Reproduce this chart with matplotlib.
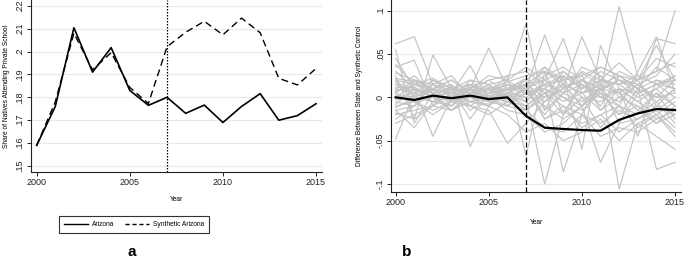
import matplotlib
matplotlib.use("Agg")
import matplotlib.pyplot as plt
from matplotlib.lines import Line2D

plt.rcParams['font.family'] = ['Liberation Sans', 'DejaVu Sans']

years = list(range(2000, 2016))

arizona = [0.159, 0.176, 0.2104, 0.191, 0.2017, 0.183, 0.1765, 0.180,
           0.173, 0.1766, 0.169, 0.176, 0.1816, 0.170, 0.172, 0.1772]
synthetic_arizona = [0.159, 0.178, 0.208, 0.192, 0.1995, 0.1843, 0.1773, 0.2021,
                     0.2084, 0.2132, 0.2073, 0.2146, 0.2082, 0.1883, 0.1854, 0.1926]

arizona_gap = [0.000, -0.003, 0.002, -0.001, 0.002, -0.002, 0.000, -0.0215,
               -0.035, -0.0365, -0.0377, -0.0385, -0.026, -0.0185, -0.0135, -0.0146]

# placebo gaps in percentage points (x 0.01)
placebo_gaps_pp = [
    [6.2, 7.0, 1.5, 0.8, -0.5, 0.5, 1.0, 2.2, 0.5, 1.5, -1.0, 0.8, 2.0, 1.0, 3.5, 2.0],
    [5.5, -3.0, 0.5, 1.0, 0.0, -1.0, 1.5, 0.5, 3.5, 2.0, 2.5, -1.5, 1.0, 0.5, 6.8, 6.2],
    [-4.8, 0.5, 1.0, -0.5, 2.0, 0.0, -1.5, -2.0, -4.0, -3.0, -1.0, -7.5, -3.0, -2.5, -1.5, -3.5],
    [3.5, 4.3, -1.0, 0.5, 1.0, -0.5, 2.0, 8.5, -1.5, 2.5, 1.0, 3.0, 2.0, 1.5, -0.5, 1.0],
    [2.5, -2.5, 4.9, 1.0, 0.5, 1.5, 0.0, 1.0, 7.2, 1.5, -1.0, 2.0, 1.5, 0.0, 1.0, 2.5],
    [1.5, 1.0, -4.5, 0.0, -1.0, 0.5, 2.5, -6.8, 3.0, -2.0, 1.5, 0.5, -2.0, 1.0, -1.5, 0.0],
    [0.5, 2.0, 1.0, 1.5, -5.7, -1.0, 0.5, 0.0, -10.0, -2.0, 2.0, 1.0, -1.0, -2.0, 0.5, -2.5],
    [-1.5, -1.0, 2.0, 0.5, 3.7, -0.5, -1.0, 1.5, 2.0, 6.8, 0.5, 1.0, 10.5, 2.5, 1.5, 2.0],
    [1.0, 0.5, -0.5, -1.0, 1.0, 5.7, 1.0, 0.5, 1.5, -8.6, -2.0, 1.5, 0.5, -1.5, -3.0, -1.0],
    [-2.0, -1.5, -1.0, 1.5, -1.0, -1.5, -5.3, -3.0, -0.5, 1.0, 7.0, 2.0, -10.6, -3.0, -2.0, -4.0],
    [2.0, 1.5, 1.0, -1.0, 0.5, 2.0, 2.5, 3.0, 1.5, 2.5, -6.0, 6.0, 1.0, -4.5, 2.0, 1.5],
    [3.0, 1.0, 0.0, 0.5, 1.5, -0.5, 1.0, 2.0, 3.5, 1.0, 2.0, 0.0, -1.0, 3.0, 7.0, 0.5],
    [-0.5, -1.0, 1.5, 2.5, 0.0, 1.0, -0.5, -1.5, 0.0, 3.0, 1.5, -1.0, 2.5, 1.0, -8.3, -7.5],
    [0.0, 1.5, 0.5, -0.5, 1.0, 0.5, 1.5, 1.0, -2.0, 0.5, 3.0, 2.0, 1.5, 2.0, 3.0, 10.0],
    [1.2, 0.8, 0.5, 1.0, 0.8, 0.2, 0.5, 0.0, 1.5, 0.5, -0.5, 1.0, 2.0, 0.5, 1.5, 1.0],
    [-1.0, -0.5, -1.5, -0.5, -1.0, -2.0, -0.5, 1.0, -2.5, -1.5, -3.0, -2.0, -1.0, -3.5, -2.0, -4.5],
    [0.8, 1.2, 0.0, -1.5, 0.5, 1.0, 1.8, 2.5, 3.0, 2.0, 2.8, 1.5, 2.5, 1.0, 0.0, 2.0],
    [-0.3, 0.2, 0.8, 0.5, -0.5, -0.8, 0.3, -1.0, 0.5, -1.0, -2.0, -3.0, -1.5, -2.5, -1.0, -2.0],
    [2.2, 1.8, 1.0, 0.5, 1.2, 0.8, 1.5, 1.0, 2.5, 3.5, 2.0, 1.0, 3.0, 2.0, 4.5, 3.5],
    [-1.8, -2.5, -1.0, 0.5, -0.5, -1.0, -2.0, -4.0, -3.0, -5.0, -4.0, -2.5, -5.0, -3.0, -4.5, -6.0],
    [1.5, 0.5, 2.0, 1.0, 1.5, 0.5, 1.0, 1.5, 0.0, 1.0, 2.0, 3.5, 2.5, 1.0, 2.0, 1.0],
    [0.3, -0.5, 0.0, 1.2, 0.5, 1.0, 0.2, -0.5, 2.0, 0.0, -1.5, 0.5, -0.5, 1.5, 0.0, 0.5],
    [-2.5, -1.0, 0.5, -1.5, -0.5, 0.0, -1.0, 0.5, -1.0, -2.5, -1.0, 0.5, -2.0, -1.0, -2.5, -1.5],
    [2.8, 2.0, 1.5, 0.5, 0.0, 1.2, 0.8, 1.5, 3.0, 2.0, 2.5, 3.5, 2.5, 2.0, 3.0, 4.0],
    [1.0, 2.5, 0.5, 1.0, 2.0, 1.5, 2.0, 0.5, 1.0, -0.5, 0.5, -1.5, 0.0, -1.0, -3.0, -2.0],
    [-1.2, 0.0, -0.5, 0.2, 1.0, -0.3, 0.5, 2.0, -1.5, 0.5, 1.5, 0.0, 1.0, -0.5, 1.0, -1.0],
    [3.8, 1.5, 1.0, 2.0, 0.5, -0.5, 1.0, 1.0, 2.0, 0.5, 3.5, 2.5, 0.0, 1.5, 2.5, 5.0],
    [0.5, -0.5, -2.0, -0.5, 0.0, 1.5, -1.0, -1.5, 0.5, -2.0, 0.0, -3.5, -1.0, -2.0, -0.5, -3.0],
    [-0.8, 1.0, 0.0, -1.0, 1.5, 0.5, 0.0, 1.0, -0.5, 1.5, 0.5, 1.5, -3.0, 0.5, 1.5, 0.0],
    [1.8, -0.5, 1.0, 2.0, 0.5, 0.0, -0.5, -1.0, 1.0, 0.0, -1.0, 1.0, 0.5, -1.5, 0.5, -1.0],
    [-3.0, -2.0, -1.0, -1.5, 0.0, -0.5, 0.5, -1.5, -3.5, -4.0, -2.0, -4.5, -3.5, -4.0, -2.5, -1.5],
    [0.0, 0.5, -0.5, 0.0, 0.5, 0.2, -0.2, 0.5, 1.0, 2.5, 1.0, 2.0, 1.5, 2.5, 1.5, 2.5],
    [4.5, 1.0, 0.5, -0.5, 1.0, 2.0, 0.5, 1.5, 3.0, 1.5, 0.5, 2.0, 4.0, 2.0, 6.0, 2.0],
    [-1.5, -3.5, -0.5, 1.0, -2.5, 0.5, 1.0, 1.5, -2.5, -1.0, -3.5, -2.0, -4.0, -2.5, -1.0, -2.0],
    [2.0, 0.0, 1.5, 0.0, 1.0, 2.5, 2.0, 3.5, 2.0, 3.0, 1.0, 2.5, 0.5, 2.0, -1.0, 1.0],
    [0.7, 1.5, 2.2, 1.0, -1.5, 0.0, 1.0, -0.5, 1.5, 2.0, 0.0, -0.5, 1.0, -0.5, -2.0, -0.5],
]

treat_year = 2007
xticks = [2000, 2005, 2010, 2015]
left_yticks = [0.15, 0.16, 0.17, 0.18, 0.19, 0.20, 0.21, 0.22]
left_yticklabels = ['.15', '.16', '.17', '.18', '.19', '.2', '.21', '.22']
right_yticks = [-0.1, -0.05, 0.0, 0.05, 0.1]
right_yticklabels = ['-.1', '-.05', '0', '.05', '.1']

W, H = 685, 258
fig = plt.figure(figsize=(W / 100, H / 100), dpi=100)
fig.patch.set_facecolor('white')

grid_color = '#e2ebee'
tick_fs = 6.5
lab_fs = 4.8


def style(ax):
    for s in ['top', 'right']:
        ax.spines[s].set_visible(False)
    for s in ['left', 'bottom']:
        ax.spines[s].set_color('#222222')
        ax.spines[s].set_linewidth(0.8)
    ax.tick_params(direction='out', length=3, width=0.7, colors='#222222',
                   labelsize=tick_fs, pad=1.5)
    ax.grid(axis='y', color=grid_color, linewidth=0.8)
    ax.set_axisbelow(True)
    ax.set_xticks(xticks)


# Left panel
ax1 = fig.add_axes([30.7 / W, 1 - 172 / H, (322 - 30.7) / W, 172 / H])
style(ax1)
ax1.plot(years, arizona, color='black', lw=1.2, label='Arizona')
ax1.plot(years, synthetic_arizona, color='black', lw=1.0, ls=(0, (5, 3)),
         label='Synthetic Arizona')
ax1.axvline(treat_year, color='black', lw=0.9, ls=(0, (1.2, 1.2)))
ax1.set_xlim(1999.68, 2015.32)
ax1.set_ylim(0.14738, 0.2225)
ax1.set_yticks(left_yticks)
ax1.set_yticklabels(left_yticklabels, rotation=90, va='center')
ax1.set_ylabel('Share of Natives Attending Private School', fontsize=lab_fs, labelpad=4)
ax1.set_xlabel('Year', fontsize=lab_fs, labelpad=6)

leg = fig.legend(handles=[Line2D([], [], color='black', lw=1.0),
                          Line2D([], [], color='black', lw=1.0, ls=(0, (3, 2)))],
                 labels=['Arizona', 'Synthetic Arizona'],
                 loc='center', bbox_to_anchor=(134 / W, 1 - 224.5 / H),
                 ncol=2, fontsize=lab_fs, frameon=True, fancybox=False,
                 edgecolor='black', handlelength=3.7, columnspacing=1.5,
                 borderpad=0.7, handletextpad=0.6, borderaxespad=0)
leg.get_frame().set_linewidth(0.8)

fig.text(132 / W, 1 - 252 / H, 'a', fontsize=11, fontweight='bold',
         ha='center', va='center')

# Right panel
ax2 = fig.add_axes([391 / W, 1 - 191.7 / H, (681 - 391) / W, 191.7 / H])
style(ax2)
for g in placebo_gaps_pp:
    ax2.plot(years, [v / 100 for v in g], color='#c4c4c4', lw=0.85)
ax2.plot(years, arizona_gap, color='black', lw=1.6)
ax2.axvline(treat_year, color='black', lw=0.9, ls=(0, (4, 2)))
ax2.set_xlim(1999.75, 2015.32)
ax2.set_ylim(-0.1089, 0.1124)
ax2.set_yticks(right_yticks)
ax2.set_yticklabels(right_yticklabels, rotation=90, va='center')
ax2.set_ylabel('Difference Between State and Synthetic Control', fontsize=lab_fs,
               labelpad=9)
ax2.set_xlabel('Year', fontsize=lab_fs, labelpad=9)

fig.text(407 / W, 1 - 252 / H, 'b', fontsize=11, fontweight='bold',
         ha='center', va='center')

fig.savefig('out.png', dpi=100)
